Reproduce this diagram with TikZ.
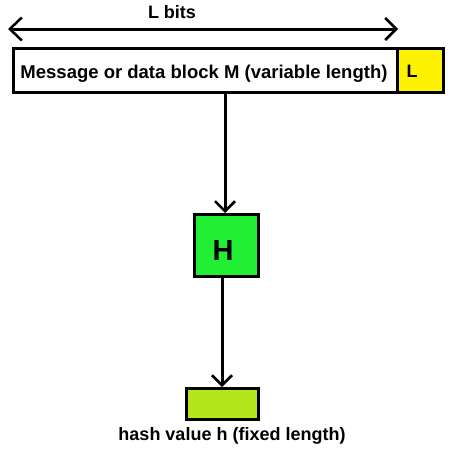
\documentclass[tikz,border=0pt]{standalone}
\usepackage{fontspec}
\setmainfont{Liberation Sans}
\usetikzlibrary{arrows.meta}
\definecolor{lyellow}{HTML}{FFF200}
\definecolor{hgreen}{HTML}{22EE33}
\definecolor{lime}{HTML}{B5E61D}
\begin{document}
\begin{tikzpicture}[x=1pt,y=-1pt,
  box/.style={draw=black,line width=3pt,inner sep=0pt,anchor=north west},
  lbl/.style={font=\fontsize{18.5}{22}\selectfont\bfseries,inner sep=0pt,anchor=base},
  conn/.style={line width=3pt,-{Straight Barb[length=10pt,width=20pt,line width=2.5pt]}},
  dim/.style={line width=3pt,{Straight Barb[length=12pt,width=23pt,line width=2.5pt]}-{Straight Barb[length=11pt,width=22pt,line width=2.5pt]}}]
\useasboundingbox (0,0) rectangle (453,455);
\node[box,fill=white,minimum width=384pt,minimum height=44pt] (msg) at (12,47) {};
\node[box,fill=lyellow,minimum width=46pt,minimum height=44pt] (lb) at (396,47) {};
\node[lbl] (msgt) at (204,78) {Message or data block M (variable length)};
\node[font=\fontsize{18}{22}\selectfont\bfseries,inner sep=0pt,anchor=base west] (lt) at (406.5,77.5) {L};
\coordinate (a1) at (8,29);
\coordinate (a2) at (398,29);
\draw[dim] (a1) -- (a2);
\node[lbl,font=\fontsize{18}{22}\selectfont\bfseries] (bits) at (172,18.5) {L bits};
\node[box,fill=hgreen,minimum width=64pt,minimum height=62pt] (H) at (193,213) {};
\node[font=\fontsize{29}{34}\selectfont\bfseries,inner sep=0pt,anchor=base] (Ht) at (223,260) {H};
\node[box,fill=lime,minimum width=72pt,minimum height=31pt] (hv) at (185,387) {};
\node[lbl,font=\fontsize{18}{22}\selectfont\bfseries] (hvt) at (232,440) {hash value h (fixed length)};
\draw[conn] (msg.south -| 225,0) -- (H.north -| 225,0);
\draw[conn] (H.south -| 222,0) -- (hv.north -| 222,0);
\end{tikzpicture}
\end{document}
